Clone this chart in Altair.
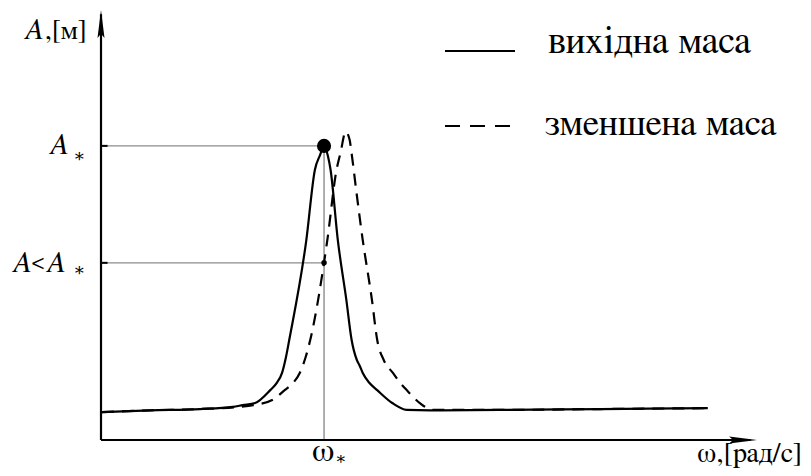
import altair as alt
import pandas as pd

# ---- data (arbitrary units: omega 0..100, A 0..100) ----
omega_solid = [0.15, 7.5, 15.1, 20.1, 21.6, 23.5, 25.8, 26.8, 27.6, 28.2, 28.7, 31.3,
               32.6, 33.4, 34.0, 34.6, 35.0, 36.1, 37.4, 38.2, 39.0, 39.4, 39.9, 40.9,
               42.1, 44.4, 46.6, 50.2, 60.8, 76.1, 92.5]
A_solid = [6.5, 6.9, 7.2, 7.7, 8.1, 8.6, 11.6, 13.3, 15.6, 19.3, 23.3, 46.5,
           62.8, 66.3, 68.4, 66.0, 62.8, 46.5, 32.6, 23.3, 18.6, 17.4, 15.6, 13.3,
           11.6, 8.6, 7.0, 6.9, 7.0, 7.2, 7.4]

omega_dashed = [0.15, 7.5, 15.1, 21.2, 23.2, 26.1, 28.0, 29.3, 30.3, 31.2, 31.9, 34.5,
                35.9, 36.5, 37.3, 37.9, 38.2, 38.9, 39.9, 41.3, 42.1, 43.1, 44.5,
                45.6, 46.6, 48.6, 50.6, 60.8, 76.1, 92.5]
A_dashed = [6.5, 6.9, 7.2, 7.7, 8.1, 9.3, 11.6, 13.3, 15.6, 19.3, 23.3, 46.5,
            62.8, 66.7, 71.7, 69.8, 66.7, 58.1, 46.5, 32.6, 23.3, 18.6, 15.6,
            13.3, 11.6, 8.6, 7.0, 7.0, 7.2, 7.4]

OMEGA_STAR = 34.0
A_STAR = 68.4
A_LESS = 41.2

legend_labels = ["вихідна маса", "зменшена маса"]
x_title = "ω,[рад/с]"
y_unit = ",[м]"

FONT = "FreeSerif"
STAR_FONT = "DejaVu Serif"

xs = alt.Scale(domain=[0, 100], nice=False, zero=False)
ys = alt.Scale(domain=[0, 100], nice=False, zero=False)


def X(f="x"):
    return alt.X(f"{f}:Q", scale=xs, axis=None)


def Y(f="y"):
    return alt.Y(f"{f}:Q", scale=ys, axis=None)


df_solid = pd.DataFrame({"x": omega_solid, "y": A_solid})
df_dashed = pd.DataFrame({"x": omega_dashed, "y": A_dashed})

solid = alt.Chart(df_solid).mark_line(
    color="black", strokeWidth=2.2, interpolate="monotone"
).encode(x=X(), y=Y())

dashed = alt.Chart(df_dashed).mark_line(
    color="black", strokeWidth=2.2, strokeDash=[12, 8], interpolate="monotone"
).encode(x=X(), y=Y())

# guide lines
df_h = pd.DataFrame({"y": [A_STAR, A_LESS], "x": [0, 0], "x2": [OMEGA_STAR, OMEGA_STAR]})
hguides = alt.Chart(df_h).mark_rule(color="#8c8c8c", strokeWidth=1.4).encode(
    x=X(), x2="x2:Q", y=Y()
)
df_v = pd.DataFrame({"x": [OMEGA_STAR], "y": [0], "y2": [A_STAR]})
vguide = alt.Chart(df_v).mark_rule(color="#8c8c8c", strokeWidth=1.4).encode(
    x=X(), y=Y(), y2="y2:Q"
)

# axes
df_xaxis = pd.DataFrame({"x": [0], "x2": [99], "y": [0]})
xaxis = alt.Chart(df_xaxis).mark_rule(color="black", strokeWidth=2.2).encode(
    x=X(), x2="x2:Q", y=Y()
)
df_yaxis = pd.DataFrame({"x": [0], "y": [0], "y2": [99]})
yaxis = alt.Chart(df_yaxis).mark_rule(color="black", strokeWidth=2.2).encode(
    x=X(), y=Y(), y2="y2:Q"
)
df_xarrow = pd.DataFrame({"x": [100], "y": [0]})
xarrow = alt.Chart(df_xarrow).mark_point(
    shape="M0,0 L-2,-0.25 L-1.7,0 L-2,0.25 Z", filled=True, color="black",
    size=784, opacity=1, strokeWidth=0
).encode(x=X(), y=Y())
df_yarrow = pd.DataFrame({"x": [0], "y": [100]})
yarrow = alt.Chart(df_yarrow).mark_point(
    shape="M0,0 L-0.25,2 L0,1.7 L0.25,2 Z", filled=True, color="black",
    size=784, opacity=1, strokeWidth=0
).encode(x=X(), y=Y())

df_ticks = pd.DataFrame({"x": [0, 0], "x2": [1, 1], "y": [A_STAR, A_LESS]})
yticks = alt.Chart(df_ticks).mark_rule(color="black", strokeWidth=2).encode(
    x=X(), x2="x2:Q", y=Y()
)

# points
df_big = pd.DataFrame({"x": [OMEGA_STAR], "y": [A_STAR]})
bigdot = alt.Chart(df_big).mark_point(
    shape="circle", filled=True, color="black", size=200, opacity=1
).encode(x=X(), y=Y())
df_small = pd.DataFrame({"x": [OMEGA_STAR], "y": [A_LESS]})
smalldot = alt.Chart(df_small).mark_point(
    shape="circle", filled=True, color="black", size=30, opacity=1
).encode(x=X(), y=Y())


def txt(df, text, dx, dy, size, italic=False, align="left", baseline="alphabetic", font=FONT):
    kw = dict(text=text, dx=dx, dy=dy, fontSize=size, font=font, align=align,
              baseline=baseline, color="black")
    if italic:
        kw["fontStyle"] = "italic"
    return alt.Chart(df).mark_text(**kw).encode(x=X(), y=Y())


df_astar = pd.DataFrame({"x": [0], "y": [A_STAR]})
df_aless = pd.DataFrame({"x": [0], "y": [A_LESS]})
df_top = pd.DataFrame({"x": [0], "y": [100]})
df_wstar = pd.DataFrame({"x": [OMEGA_STAR], "y": [0]})
df_xend = pd.DataFrame({"x": [100], "y": [0]})

labels = [
    # A*
    txt(df_astar, "A", -52, 8, 30, italic=True),
    txt(df_astar, "∗", -22, 11, 18, align="center", baseline="middle", font=STAR_FONT),
    # A<A*
    txt(df_aless, "A", -89, 9, 30, italic=True),
    txt(df_aless, "<", -63, 6, 22, align="center"),
    txt(df_aless, "A", -55, 9, 30, italic=True),
    txt(df_aless, "∗", -22, 8, 18, align="center", baseline="middle", font=STAR_FONT),
    # A,[м]
    txt(df_top, "A", -77, 29, 30, italic=True),
    txt(df_top, y_unit, -56, 29, 27),
    # ω*
    txt(df_wstar, "ω", -1, 21, 33, align="center"),
    txt(df_wstar, "∗", 17, 19, 17, align="center", baseline="middle", font=STAR_FONT),
    # x title
    txt(df_xend, x_title, 45, 22, 28, align="right"),
]

# legend (pixel positions inside the plot area)
leg_solid = alt.Chart(pd.DataFrame({"a": [0]})).mark_rule(color="black", strokeWidth=2.2).encode(
    x=alt.value(344), x2=alt.value(414), y=alt.value(41)
)
leg_dashed = alt.Chart(pd.DataFrame({"a": [0]})).mark_rule(
    color="black", strokeWidth=2.2, strokeDash=[15, 10]
).encode(x=alt.value(344), x2=alt.value(409), y=alt.value(116))
leg_t1 = alt.Chart(pd.DataFrame({"t": [legend_labels[0]]})).mark_text(
    font=FONT, fontSize=38, align="left", baseline="alphabetic", color="black"
).encode(x=alt.value(447), y=alt.value(43), text="t:N")
leg_t2 = alt.Chart(pd.DataFrame({"t": [legend_labels[1]]})).mark_text(
    font=FONT, fontSize=37, align="left", baseline="alphabetic", color="black"
).encode(x=alt.value(444), y=alt.value(125), text="t:N")

chart = alt.layer(
    hguides, vguide, xaxis, yaxis, xarrow, yarrow, yticks,
    solid, dashed, bigdot, smalldot,
    *labels, leg_solid, leg_dashed, leg_t1, leg_t2
).properties(
    width=656, height=430,
    padding={"left": 93, "top": 2, "right": 46, "bottom": 28},
    autosize="none", background="white"
).configure_view(stroke=None)

chart.save("out.html", embed_options={"renderer": "svg", "actions": False})
